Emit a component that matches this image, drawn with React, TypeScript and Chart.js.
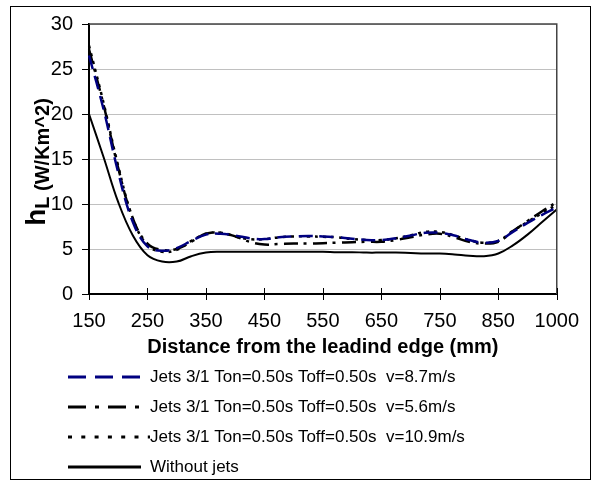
import React, { useEffect, useRef } from "react";
import { Chart, registerables } from "chart.js";

Chart.register(...registerables);

// Category positions along the plate (mm); evenly spaced on the chart's category axis
const distances = [
  "150", "175", "200", "225", "250", "275", "300", "325", "350", "375",
  "400", "425", "450", "475", "500", "525", "550", "575", "600", "625",
  "650", "675", "700", "725", "750", "775", "800", "825", "850",
  "887.5", "925", "962.5", "1000",
];
const xTickLabels = ["150", "250", "350", "450", "550", "650", "750", "850", "1000"];
const yTicks = [0, 5, 10, 15, 20, 25, 30];

const seriesNames = [
  "Jets 3/1 Ton=0.50s Toff=0.50s  v=8.7m/s",
  "Jets 3/1 Ton=0.50s Toff=0.50s  v=5.6m/s",
  "Jets 3/1 Ton=0.50s Toff=0.50s  v=10.9m/s",
  "Without jets",
];

const jetsV87 = [
  26.5, 20.5, 13.5, 8.0, 5.3, 4.8, 5.1, 5.9, 6.6, 6.7,
  6.5, 6.2, 6.1, 6.3, 6.4, 6.45, 6.4, 6.3, 6.15, 6.0,
  6.0, 6.2, 6.5, 6.8, 6.8, 6.5, 6.0, 5.7, 5.9,
  6.9, 7.9, 8.8, 9.6,
];
const jetsV56 = [
  27.2, 21.0, 14.0, 8.4, 5.6, 4.9, 5.0, 5.8, 6.7, 6.8,
  6.4, 5.8, 5.5, 5.55, 5.6, 5.6, 5.65, 5.7, 5.75, 5.8,
  5.8, 6.0, 6.3, 6.6, 6.7, 6.3, 5.8, 5.6, 5.8,
  7.0, 8.1, 9.2, 10.2,
];
const jetsV109 = [
  27.6, 21.2, 14.2, 8.4, 5.4, 4.7, 4.9, 5.9, 6.7, 6.8,
  6.4, 6.1, 6.1, 6.3, 6.4, 6.4, 6.35, 6.3, 6.1, 6.0,
  6.0, 6.2, 6.5, 6.9, 6.9, 6.5, 6.0, 5.7, 5.9,
  7.0, 8.0, 9.0, 9.9,
];
const withoutJets = [
  20.0, 15.2, 10.2, 6.5, 4.3, 3.6, 3.6, 4.2, 4.6, 4.7,
  4.7, 4.7, 4.7, 4.7, 4.7, 4.7, 4.7, 4.65, 4.65, 4.6,
  4.6, 4.6, 4.55, 4.5, 4.5, 4.4, 4.25, 4.2, 4.5,
  5.4, 6.6, 8.0, 9.4,
];

const seriesColors = ["#000080", "#000000", "#000000", "#000000"];
const chartDashes = [[14, 7], [14, 6, 3, 6], [3, 5], []];
const legendDashes = [[18, 9], [18, 9, 4, 9], [4, 9.3], []];

const FONT = 'Arial, "Liberation Sans", sans-serif';

const decorPlugin = {
  id: "decor",
  afterDraw(chart: any) {
    const { ctx, chartArea } = chart;
    const xs = chart.scales.x;
    ctx.save();
    // plot area top/right border
    ctx.strokeStyle = "#444";
    ctx.lineWidth = 1.5;
    ctx.beginPath();
    ctx.moveTo(chartArea.left, chartArea.top);
    ctx.lineTo(chartArea.right, chartArea.top);
    ctx.lineTo(chartArea.right, chartArea.bottom);
    ctx.stroke();
    // crossing x tick marks
    ctx.strokeStyle = "#000";
    ctx.lineWidth = 1;
    for (let i = 0; i < distances.length; i += 4) {
      const x = Math.round(xs.getPixelForValue(i)) + 0.5;
      ctx.beginPath();
      ctx.moveTo(x, chartArea.bottom - 6);
      ctx.lineTo(x, chartArea.bottom + 6);
      ctx.stroke();
    }
    // outer frame
    ctx.strokeStyle = "#000";
    ctx.lineWidth = 1;
    ctx.strokeRect(10.5, 6.5, 580, 473);

    // x axis title
    ctx.fillStyle = "#000";
    ctx.font = `bold 20px ${FONT}`;
    ctx.textAlign = "center";
    ctx.textBaseline = "middle";
    ctx.fillText("Distance from the leadind edge (mm)", (chartArea.left + chartArea.right) / 2, 347);

    // y axis title: h with subscript L (W/Km^2)
    ctx.save();
    const cy = (chartArea.top + chartArea.bottom) / 2 + 3;
    ctx.translate(45, cy);
    ctx.rotate(-Math.PI / 2);
    ctx.textAlign = "left";
    ctx.textBaseline = "alphabetic";
    ctx.font = `bold 28px ${FONT}`;
    const wh = ctx.measureText("h").width;
    ctx.font = `bold 20px ${FONT}`;
    const sub = "L (W/Km^2)";
    const ws = ctx.measureText(sub).width;
    const start = -(wh + ws) / 2;
    ctx.font = `bold 28px ${FONT}`;
    ctx.fillText("h", start, 0);
    ctx.font = `bold 20px ${FONT}`;
    ctx.fillText(sub, start + wh, 4);
    ctx.restore();

    // legend
    const rows = [377, 407, 437, 467];
    ctx.font = `17px ${FONT}`;
    ctx.textAlign = "left";
    ctx.textBaseline = "middle";
    chart.data.datasets.forEach((ds: any, i: number) => {
      const y = rows[i];
      ctx.strokeStyle = ds.borderColor;
      ctx.lineWidth = 3;
      ctx.setLineDash(legendDashes[i]);
      ctx.beginPath();
      ctx.moveTo(68, y);
      ctx.lineTo(i === 2 ? 150 : 141, y);
      ctx.stroke();
      ctx.setLineDash([]);
      ctx.fillStyle = "#000";
      ctx.fillText(ds.label, 150, y);
    });
    ctx.restore();
  },
};

export default function App() {
  const ref = useRef<HTMLCanvasElement | null>(null);
  useEffect(() => {
    if (!ref.current) return;
    const values = [jetsV87, jetsV56, jetsV109, withoutJets];
    const chart = new Chart(ref.current, {
      type: "line",
      data: {
        labels: distances,
        datasets: values.map((v, i) => ({
          label: seriesNames[i],
          data: v,
          borderColor: seriesColors[i],
          backgroundColor: seriesColors[i],
          borderWidth: i === 3 ? 2 : 2.5,
          borderDash: chartDashes[i],
          pointRadius: 0,
          tension: 0.4,
          fill: false,
        })),
      },
      options: {
        responsive: false,
        animation: false,
        layout: { padding: { left: 0, top: 24, right: 30, bottom: 127 } },
        plugins: {
          legend: { display: false },
          tooltip: { enabled: false },
        },
        scales: {
          x: {
            type: "category",
            offset: false,
            grid: { display: false, drawTicks: false },
            border: { display: true, color: "#000", width: 2 },
            ticks: {
              autoSkip: false,
              maxRotation: 0,
              minRotation: 0,
              padding: 15,
              color: "#000",
              font: { family: FONT, size: 20 },
              callback: (_v: any, index: number) =>
                index % 4 === 0 ? xTickLabels[index / 4] : "",
            },
            afterFit: (s: any) => {
              s.height = 60;
            },
          },
          y: {
            min: yTicks[0],
            max: yTicks[yTicks.length - 1],
            grid: {
              color: "#c0c0c0",
              lineWidth: 1,
              drawTicks: true,
              tickLength: 7,
              tickColor: "#000",
            },
            border: { display: true, color: "#000", width: 2 },
            ticks: {
              stepSize: 5,
              padding: 9,
              color: "#000",
              font: { family: FONT, size: 20 },
            },
            afterFit: (s: any) => {
              s.width = 89;
            },
          },
        },
      },
      plugins: [decorPlugin],
    });
    return () => chart.destroy();
  }, []);
  return (
    <div style={{ position: "fixed", left: 0, top: 0, width: 594, height: 481, background: "#fff" }}>
      <canvas ref={ref} width={594} height={481} style={{ display: "block" }} />
    </div>
  );
}
